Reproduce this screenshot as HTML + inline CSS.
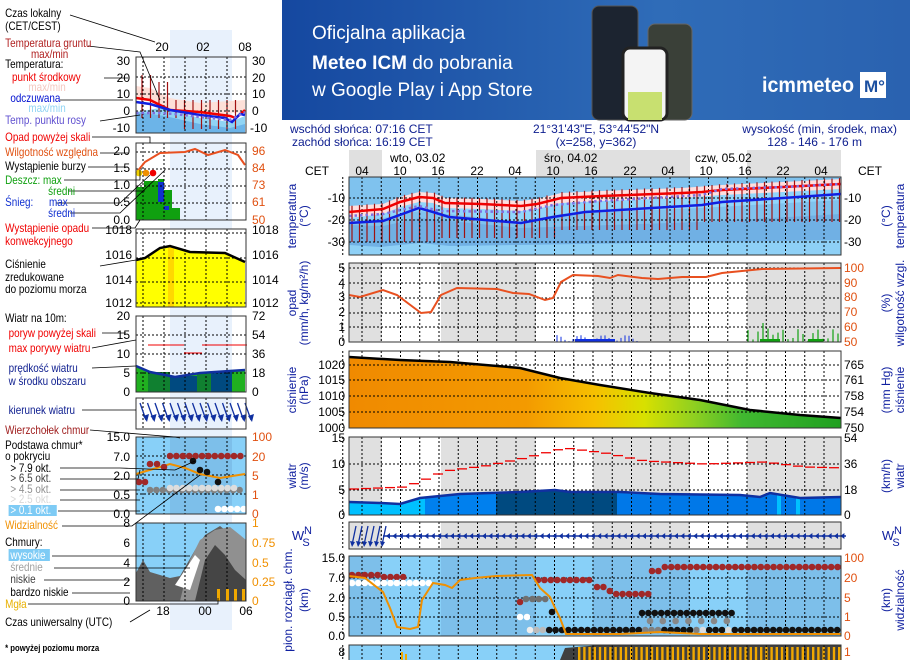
<!DOCTYPE html>
<html><head><meta charset="utf-8"><style>
html,body{margin:0;padding:0;background:#fff;}
svg{display:block;font-family:"Liberation Sans",sans-serif;}
</style></head><body>
<svg id="s" width="910" height="660" viewBox="0 0 910 660" xmlns="http://www.w3.org/2000/svg">
<defs>
<linearGradient id="bn" x1="0" y1="0" x2="1" y2="0"><stop offset="0" stop-color="#1548a0"/><stop offset="0.6" stop-color="#2f6cb8"/><stop offset="1" stop-color="#2a62b0"/></linearGradient>
<linearGradient id="pr" x1="0" y1="0" x2="1" y2="0">
<stop offset="0" stop-color="#f08a00"/><stop offset="0.36" stop-color="#f39a00"/><stop offset="0.5" stop-color="#f6c000"/><stop offset="0.6" stop-color="#d8e000"/><stop offset="0.7" stop-color="#90d020"/><stop offset="0.8" stop-color="#40b830"/><stop offset="1" stop-color="#20a020"/></linearGradient>
</defs>
<!-- banner -->
<rect x="282" y="0" width="628" height="120" fill="url(#bn)"/>
<text x="312" y="39" fill="#fff" font-size="19">Oficjalna aplikacja</text>
<text x="312" y="69" fill="#fff" font-size="19"><tspan font-weight="bold">Meteo ICM</tspan> do pobrania</text>
<text x="312" y="96" fill="#fff" font-size="19">w Google Play i App Store</text>
<rect x="592" y="6" width="46" height="114" rx="7" fill="#1c2430" stroke="#555"/>
<rect x="648" y="24" width="44" height="96" rx="7" fill="#3a4038" stroke="#666"/>
<rect x="623" y="48" width="44" height="72" rx="7" fill="#f4f4f4" stroke="#222" stroke-width="3"/>
<rect x="628" y="92" width="34" height="28" fill="#c8e070"/>
<text x="762" y="92" fill="#fff" font-size="21" font-weight="bold" textLength="92" lengthAdjust="spacingAndGlyphs">icmmeteo</text>
<rect x="860" y="72" width="26" height="26" fill="#fff"/>
<text x="864" y="92" fill="#1b4fa0" font-size="17" font-weight="bold">M°</text>
<!-- left column highlight -->
<rect x="170" y="30" width="62" height="600" fill="#e8f1fc"/>
<g id="g"></g>
<!-- header text -->
<g fill="#102090" font-size="12">
<text x="290" y="133">wschód słońca: 07:16 CET</text>
<text x="292" y="146">zachód słońca: 16:19 CET</text>
<text x="596" y="133" text-anchor="middle">21°31'43"E, 53°44'52"N</text>
<text x="596" y="146" text-anchor="middle">(x=258,  y=362)</text>
<text x="897" y="133" text-anchor="end">wysokość (min, środek, max)</text>
<text x="862" y="146" text-anchor="end">128 - 146 - 176 m</text>
</g>
<g font-size="12" fill="#000">
<text x="390" y="162">wto, 03.02</text><text x="544" y="162">śro, 04.02</text><text x="695" y="162">czw, 05.02</text>
<text x="305" y="175">CET</text><text x="858" y="175">CET</text>
<g text-anchor="middle"><text x="362" y="175">04</text><text x="400" y="175">10</text><text x="438" y="175">16</text><text x="477" y="175">22</text><text x="515" y="175">04</text><text x="553" y="175">10</text><text x="591" y="175">16</text><text x="630" y="175">22</text><text x="668" y="175">04</text><text x="706" y="175">10</text><text x="745" y="175">16</text><text x="783" y="175">22</text><text x="821" y="175">04</text></g>
</g>
<!-- main axes labels -->
<g font-size="12" fill="#000">
<g text-anchor="end"><text x="345" y="202">-10</text><text x="345" y="224">-20</text><text x="345" y="246">-30</text>
<text x="345" y="272">5</text><text x="345" y="287">4</text><text x="345" y="301">3</text><text x="345" y="316">2</text><text x="345" y="331">1</text><text x="345" y="346">0</text>
<text x="345" y="369">1020</text><text x="345" y="384">1015</text><text x="345" y="400">1010</text><text x="345" y="416">1005</text><text x="345" y="432">1000</text>
<text x="345" y="442">15</text><text x="345" y="468">10</text><text x="345" y="494">5</text><text x="345" y="519">0</text>
<text x="345" y="562">15.0</text><text x="345" y="582">7.0</text><text x="345" y="602">2.0</text><text x="345" y="621">0.5</text><text x="345" y="640">0.0</text><text x="345" y="656">8</text></g>
<text x="844" y="202">-10</text><text x="844" y="224">-20</text><text x="844" y="246">-30</text>
<text x="844" y="369">765</text><text x="844" y="384">761</text><text x="844" y="400">758</text><text x="844" y="416">754</text><text x="844" y="432">750</text>
<text x="844" y="442">54</text><text x="844" y="468">36</text><text x="844" y="494">18</text><text x="844" y="519">0</text>
<g fill="#e05010"><text x="844" y="272">100</text><text x="844" y="287">90</text><text x="844" y="301">80</text><text x="844" y="316">70</text><text x="844" y="331">60</text><text x="844" y="346">50</text>
<text x="844" y="562">100</text><text x="844" y="582">20</text><text x="844" y="602">5</text><text x="844" y="621">1</text><text x="844" y="640">0</text><text x="844" y="656">1</text></g>
</g>
<g font-size="12" fill="#1020a0" text-anchor="middle">
<text transform="translate(296,216) rotate(-90)">temperatura</text><text transform="translate(308,216) rotate(-90)">(°C)</text>
<text transform="translate(296,303) rotate(-90)">opad</text><text transform="translate(308,303) rotate(-90)">(mm/h, kg/m²/h)</text>
<text transform="translate(296,390) rotate(-90)">ciśnienie</text><text transform="translate(308,390) rotate(-90)">(hPa)</text>
<text transform="translate(296,476) rotate(-90)">wiatr</text><text transform="translate(308,476) rotate(-90)">(m/s)</text>
<text transform="translate(292,600) rotate(-90)">pion. rozciągł. chm.</text><text transform="translate(308,600) rotate(-90)">(km)</text>
<text transform="translate(890,216) rotate(-90)">(°C)</text><text transform="translate(904,216) rotate(-90)">temperatura</text>
<text transform="translate(890,303) rotate(-90)">(%)</text><text transform="translate(904,303) rotate(-90)">wilgotność wzgl.</text>
<text transform="translate(890,390) rotate(-90)">(mm Hg)</text><text transform="translate(904,390) rotate(-90)">ciśnienie</text>
<text transform="translate(890,476) rotate(-90)">(km/h)</text><text transform="translate(904,476) rotate(-90)">wiatr</text>
<text transform="translate(890,600) rotate(-90)">(km)</text><text transform="translate(904,600) rotate(-90)">widzialność</text>
<text x="298" y="540" font-size="13">W</text><text x="308" y="534" font-size="11">N</text><text x="306" y="546" font-size="11">S</text>
<text x="888" y="540" font-size="13">W</text><text x="898" y="534" font-size="11">N</text><text x="896" y="546" font-size="11">S</text>
</g>
<!-- left labels -->
<g font-size="11.5" transform="scale(0.86,1)">
<text x="6" y="17">Czas lokalny</text><text x="6" y="30">(CET/CEST)</text>
<text x="6" y="47" fill="#b02020">Temperatura gruntu</text><text x="36" y="58" fill="#b02020">max/min</text>
<text x="6" y="68">Temperatura:</text>
<text x="14" y="81" fill="#f00000">punkt środkowy</text>
<text x="33" y="91" fill="#f4c8c0">max/min</text>
<text x="12" y="102" fill="#0010d0">odczuwana</text>
<text x="33" y="112" fill="#90d4f4">max/min</text>
<text x="6" y="124" fill="#6050d0">Temp. punktu rosy</text>
<text x="6" y="141" fill="#f00000">Opad powyżej skali</text>
<text x="6" y="156" fill="#e05010">Wilgotność względna</text>
<text x="6" y="170">Wystąpienie burzy</text>
<text x="6" y="184" fill="#10a010">Deszcz: max</text>
<text x="56" y="195" fill="#10a010">średni</text>
<text x="6" y="206" fill="#1030d0">Śnieg:</text><text x="57" y="206" fill="#1030d0">max</text>
<text x="56" y="217" fill="#1030d0">średni</text>
<text x="6" y="232" fill="#f00000">Wystąpienie opadu</text>
<text x="6" y="245" fill="#f00000">konwekcyjnego</text>
<text x="6" y="268">Ciśnienie</text><text x="6" y="281">zredukowane</text><text x="6" y="293">do poziomu morza</text>
<text x="6" y="322">Wiatr na 10m:</text>
<text x="10" y="337" fill="#f00000">poryw powyżej skali</text>
<text x="10" y="352" fill="#f00000">max porywy wiatru</text>
<text x="10" y="372" fill="#102090">prędkość wiatru</text>
<text x="10" y="385" fill="#102090">w środku obszaru</text>
<text x="10" y="414" fill="#102090">kierunek wiatru</text>
<text x="6" y="434" fill="#a02020">Wierzchołek chmur</text>
<text x="6" y="449">Podstawa chmur*</text><text x="6" y="460">o pokryciu</text>
<text x="12" y="472">&gt; 7.9 okt.</text>
<text x="12" y="482" fill="#404040">&gt; 6.5 okt.</text>
<text x="12" y="493" fill="#909090">&gt; 4.5 okt.</text>
<text x="12" y="503" fill="#d8d8d8">&gt; 2.5 okt.</text>
<rect x="10" y="505" width="56" height="11" fill="#7ecbf5"/><text x="12" y="514" fill="#fff">&gt; 0.1 okt.</text>
<text x="6" y="529" fill="#f09000">Widzialność</text>
<text x="6" y="546">Chmury:</text>
<rect x="10" y="549" width="48" height="12" fill="#7ecbf5"/><text x="12" y="559" fill="#fff">wysokie</text>
<text x="12" y="571" fill="#a0a0a0">średnie</text>
<text x="12" y="583" fill="#404040">niskie</text>
<text x="12" y="596">bardzo niskie</text>
<text x="6" y="608" fill="#e8b000">Mgła</text>
<text x="6" y="626">Czas uniwersalny (UTC)</text>
<text x="6" y="651" font-size="9" font-weight="bold">* powyżej poziomu morza</text>
</g>
<g font-size="12" text-anchor="middle"><text x="162" y="51">20</text><text x="203" y="51">02</text><text x="245" y="51">08</text>
<text x="163" y="615">18</text><text x="205" y="615">00</text><text x="246" y="615">06</text></g>
<g font-size="12" text-anchor="end"><text x="130" y="65">30</text><text x="130" y="82">20</text><text x="130" y="98">10</text><text x="130" y="115">0</text><text x="130" y="132">-10</text>
<text x="130" y="155">2.0</text><text x="130" y="172">1.5</text><text x="130" y="189">1.0</text><text x="130" y="206">0.5</text><text x="130" y="224">0.0</text>
<text x="132" y="234">1018</text><text x="132" y="259">1016</text><text x="132" y="284">1014</text><text x="132" y="307">1012</text>
<text x="130" y="320">20</text><text x="130" y="339">15</text><text x="130" y="358">10</text><text x="130" y="377">5</text><text x="130" y="396">0</text>
<text x="130" y="441">15.0</text><text x="130" y="461">7.0</text><text x="130" y="480">2.0</text><text x="130" y="499">0.5</text><text x="130" y="518">0.0</text>
<text x="130" y="527">8</text><text x="130" y="547">6</text><text x="130" y="567">4</text><text x="130" y="586">2</text><text x="130" y="605">0</text></g>
<g font-size="12"><text x="252" y="65">30</text><text x="252" y="82">20</text><text x="252" y="98">10</text><text x="252" y="115">0</text><text x="250" y="132">-10</text>
<text x="252" y="234">1018</text><text x="252" y="259">1016</text><text x="252" y="284">1014</text><text x="252" y="307">1012</text>
<text x="252" y="320">72</text><text x="252" y="339">54</text><text x="252" y="358">36</text><text x="252" y="377">18</text><text x="252" y="396">0</text>
<g fill="#e05010"><text x="252" y="155">96</text><text x="252" y="172">84</text><text x="252" y="189">73</text><text x="252" y="206">61</text><text x="252" y="224">50</text>
<text x="252" y="441">100</text><text x="252" y="461">20</text><text x="252" y="480">5</text><text x="252" y="499">1</text><text x="252" y="518">0</text></g>
<g fill="#f09000"><text x="252" y="527">1</text><text x="252" y="547">0.75</text><text x="252" y="567">0.5</text><text x="252" y="586">0.25</text><text x="252" y="605">0</text></g></g>
</svg>
<script>
var S='http://www.w3.org/2000/svg',G=document.getElementById('g');
function e(t,a){var n=document.createElementNS(S,t);for(var k in a)n.setAttribute(k,a[k]);G.appendChild(n);return n;}
function R(x,y,w,h,f,o){var a={x:x,y:y,width:w,height:h,fill:f};if(o)for(var k in o)a[k]=o[k];return e('rect',a);}
function P(d,f,s,w,o){var a={d:d,fill:f||'none',stroke:s||'none','stroke-width':w||1};if(o)for(var k in o)a[k]=o[k];return e('path',a);}
function pl(p){return 'M'+p.map(function(q){return q.join(',')}).join('L');}
var L=349,Rr=841,W=Rr-L;
var nights=[[349,382],[441,536],[593,690],[747,841]];
R(349,150,33,28,'#e0e0e0');R(536,150,154,28,'#e0e0e0');R(747,150,94,28,'#e0e0e0');
function nightBg(y,h){R(L,y,W,h,'#fff');nights.forEach(function(n){R(n[0],y,n[1]-n[0],h,'#e0e0e0');});}
function vgrid(y1,y2,x0,x1,st,c){for(var x=x0;x<=x1;x+=st)e('line',{x1:x,y1:y1,x2:x,y2:y2,stroke:c||'#000','stroke-dasharray':'2,2','stroke-width':1});}
function hgrid(ys,x1,x2){ys.forEach(function(y){e('line',{x1:x1,y1:y,x2:x2,y2:y,stroke:'#000','stroke-dasharray':'2,2'});});}
var gx0=362-19.25;
// temp panel
R(L,177,W,78,'#7fc2ee');
P('M349,214L383,212L420,196L445,200L520,201L560,196L700,189L841,181L841,200L700,208L560,214L520,222L420,211L383,218L349,222Z','#90d6fc');
P('M349,225L383,226L420,218L520,228L700,222L841,214L841,255L349,255Z','#70b0e4');
P('M349,245L380,247L420,243L450,246L841,240L841,255L349,255Z','#8ed0f6');
P('M349,206L383,204L400,197L419,192L433,193L445,198L481,199L521,201L537,199L561,193L602,191L682,188L722,185L783,182L841,179L841,189L783,192L722,195L682,198L602,201L561,203L537,209L521,211L481,209L445,208L433,203L419,202L400,207L383,214L349,218Z','#ffdede');
var red=[[349,212],[383,209],[400,202],[419,197],[433,198],[445,203],[481,204],[521,206],[537,204],[561,198],[602,196],[682,193],[702,192],[722,190],[783,187],[841,184]];
function yAt(arr,x){for(var i=1;i<arr.length;i++)if(x<=arr[i][0]){var a=arr[i-1],b=arr[i];return a[1]+(b[1]-a[1])*(x-a[0])/(b[0]-a[0]);}return arr[arr.length-1][1];}
for(var x=352;x<841;x+=7.5){var t=yAt(red,x)-6;var b=x<440?242:x<560?238:x<700?230:222;e('line',{x1:x,y1:t,x2:x,y2:b,stroke:'#a01010','stroke-width':1.2});}
vgrid(177,255,gx0,841,19.25);hgrid([198,220,242],L,Rr);
P(pl(red),0,'#f00000',2.5);
var blu=[[349,223],[383,221],[419,208],[433,212],[449,217],[521,223],[553,217],[585,212],[702,205],[722,202],[783,198],[841,194]];
P(pl(blu),0,'#1020e0',2.5);
P(pl([[349,216],[383,214],[419,206],[440,211],[521,212],[553,205],[600,201],[702,195],[722,189],[783,187],[841,184]]),0,'#8070e0',2.5,{'stroke-dasharray':'2.5,3'});
R(L,177,W,78,'none',{stroke:'#333'});
// precip
nightBg(263,79);vgrid(263,342,gx0,841,19.25);hgrid([268,283,298,313,327],L,Rr);
for(var x=557;x<640;x+=4){var h=(Math.sin(x*1.3)+1.3)*3;e('line',{x1:x,y1:342-h,x2:x,y2:342,stroke:'#1030e0'});}
R(575,339,40,3,'#1030e0');
for(var x=748;x<840;x+=5){var h=(Math.sin(x*0.9)+1.2)*6+(x>755&&x<775?6:0);e('line',{x1:x,y1:342-h,x2:x,y2:342,stroke:'#10a010','stroke-width':1.2});}
R(760,339,20,3,'#10a010');R(808,339,15,3,'#10a010');
P(pl([[349,295],[360,297],[383,290],[397,295],[421,313],[431,312],[441,295],[457,288],[497,289],[513,293],[529,294],[545,300],[553,298],[561,282],[573,275],[598,276],[610,278],[618,275],[642,278],[658,279],[682,277],[706,277],[722,273],[762,269],[841,268]]),0,'#e85020',2);
R(L,263,W,79,'none',{stroke:'#333'});
// pressure
R(L,351,W,77,'#fff');vgrid(351,428,gx0,841,19.25);
P('M349,357L400,360L450,362L520,368L560,378L600,385L650,393L700,400L750,410L800,415L841,418L841,428L349,428Z','url(#pr)');
hgrid([365,380,396,412],L,Rr);
P('M349,357L400,360L450,362L520,368L560,378L600,385L650,393L700,400L750,410L800,415L841,418','none','#000',2.5);
R(L,351,W,77,'none',{stroke:'#333'});
// wind
nightBg(437,78);
var wl=[[349,502],[380,503],[400,504],[420,498],[460,494],[520,492],[555,490],[570,492],[620,492],[660,494],[740,495],[760,497],[770,493],[800,498],[841,497]];
var wd='M'+wl.map(function(q){return q.join(',')}).join('L')+'L841,515L349,515Z';
e('clipPath',{id:'wc'}).appendChild(function(){var p=document.createElementNS(S,'path');p.setAttribute('d',wd);return p;}());
var gw=e('g',{'clip-path':'url(#wc)'});
[[349,425,'#00c0ff'],[425,496,'#0080ee'],[496,617,'#004a80'],[617,841,'#0078e8'],[777,781,'#00c0ff'],[796,800,'#00c0ff']].forEach(function(c){var r=document.createElementNS(S,'rect');r.setAttribute('x',c[0]);r.setAttribute('y',437);r.setAttribute('width',c[1]-c[0]);r.setAttribute('height',78);r.setAttribute('fill',c[2]);gw.appendChild(r);});
vgrid(437,515,gx0,841,19.25);hgrid([464,490],L,Rr);
P(pl(wl),0,'#1030a0',2.5);
var gs=[[349,489],[400,487],[419,480],[440,471],[480,466],[520,458],[560,448],[600,453],[640,461],[700,464],[760,462],[800,467],[841,468]];
for(var x=349;x<841;x+=12){e('line',{x1:x,y1:yAt(gs,x),x2:x+10,y2:yAt(gs,x),stroke:'#f00000','stroke-width':1.3});}
R(L,437,W,78,'none',{stroke:'#333'});
// direction
nightBg(522,27);vgrid(522,549,gx0,841,19.25);
e('line',{x1:383,y1:536,x2:846,y2:536,stroke:'#1030a0','stroke-width':1.5});
for(var x=386;x<841;x+=6.4)P('M'+x+',536L'+(x+4)+',533L'+(x+4)+',539Z','#1030a0');
for(var x=352;x<384;x+=6){e('line',{x1:x+4,y1:526,x2:x,y2:545,stroke:'#1030a0','stroke-width':1.3});P('M'+(x-2)+',541L'+(x+3)+',542L'+x+',547Z','#1030a0');}
R(L,522,W,27,'none',{stroke:'#333'});
// cloud base
R(L,556,W,80,'#88d0f8');nights.forEach(function(n){R(n[0],556,n[1]-n[0],80,'#7dbfea');});
vgrid(556,636,gx0,841,19.25);hgrid([578,598,617],L,Rr);
function dot(x,y,c){e('circle',{cx:x,cy:y,r:3.3,fill:c});}
for(var x=352;x<408;x+=6.4)dot(x,575+(x>380?2:0),'#a02828');
for(var x=352;x<430;x+=6.4)dot(x,583,'#fff');
dot(520,602,'#a02828');for(var x=526;x<548;x+=6.4)dot(x,599,'#707070');
dot(520,617,'#fff');dot(527,617,'#fff');dot(552,612,'#111');
for(var x=538;x<594;x+=6.4)dot(x,580,'#a02828');
for(var x=597;x<650;x+=6.4)dot(x,x<605?587:x<615?591:594,'#a02828');
for(var x=530;x<842;x+=6.4){var c='#111';if(x<545)c=(x<535?'#eee':'#bbb');else if(x>640&&x<700&&((x|0)%3==0))c='#808080';else if(x>700&&x<730&&((x|0)%2==0))c='#ddd';dot(x,630,c);}
for(var x=642;x<735;x+=6.4)dot(x,613,'#111');
for(var x=650;x<730;x+=12.8)dot(x,621,'#888');
for(var x=652;x<842;x+=6.4)dot(x,x<660?571:567,'#a02828');
P(pl([[349,576],[365,578],[383,592],[390,608],[397,627],[410,629],[418,627],[422,600],[433,583],[445,585],[452,588],[460,580],[475,578],[496,576],[532,575],[540,588],[550,597],[555,608],[560,618],[566,634],[620,634],[660,632],[700,634],[841,634]]),0,'#f09000',2);
R(L,556,W,80,'none',{stroke:'#333'});
// clouds bottom
R(L,645,W,15,'#88d0f8');
P('M560,660L565,648L600,645L841,645L841,660Z','#404040');
for(var x=578;x<841;x+=5.2)R(x,647,2.4,13,'#f0a800');
R(401,652,2,8,'#f0a800');R(405,654,2,6,'#f0a800');
vgrid(645,660,gx0,841,19.25);
R(L,645,W,16,'none',{stroke:'#333'});
// LEFT MINI PANELS
var lx=136,lw=110,lgs=[143,164,185,206,227];
function lv(y1,y2){lgs.forEach(function(x){e('line',{x1:x,y1:y1,x2:x,y2:y2,stroke:'#000','stroke-dasharray':'2,2'});});}
R(lx,57,lw,76,'#fff');R(170,57,62,76,'#e8f1fc');
P('M136,86L150,88L170,98L200,103L245,100L245,112L200,116L170,112L150,100L136,98Z','#fde0d8');
P('M136,112L160,108L175,112L200,118L230,122L245,116L245,133L136,133Z','#90d4f4');
P('M136,112L165,116L200,124L230,128L245,124L245,133L136,133Z','#6cb4e8');
for(var x=142;x<244;x+=8.5){var t=x<155?75:x<170?82:100;e('line',{x1:x,y1:t,x2:x,y2:x<180?118:129,stroke:'#a01010','stroke-width':1.2});}
lv(57,133);hgrid([77,94,111],lx,246);
P('M136,98L150,100L170,110L200,112L230,116L236,118L245,110','none','#f00000',2.5);
P('M136,102L150,104L170,110L200,115L225,118L232,122L240,114L245,115','none','#1020e0',2.5);
P('M136,113L160,113L175,114L200,117L230,120L245,112','none','#8070e0',2.5,{'stroke-dasharray':'2.5,3'});
R(lx,57,lw,76,'none',{stroke:'#333'});
R(lx,143,lw,77,'#fff');R(170,143,62,77,'#e8f1fc');
R(136,187,8,33,'#10a010');R(144,181,14,39,'#10a010');R(158,179,6,41,'#10a010');R(164,190,8,30,'#10a010');R(172,208,8,12,'#10a010');R(158,182,6,20,'#1030d0');R(164,206,5,4,'#1030d0');
lv(143,220);hgrid([152,169,186,203],lx,246);
P('M136,173L145,162L160,153L185,152L195,149L208,155L225,150L238,155L245,165','none','#e85020',2);
['#f0d000','#f09000','#f00000'].forEach(function(c,i){dot(139+i*7,173,c);});
R(lx,143,lw,77,'none',{stroke:'#333'});
R(lx,229,lw,78,'#fff');
P('M136,260L145,258L160,248L170,246L190,252L225,253L245,262L245,307L136,307Z','#ffff00');R(168,246,6,61,'#ffd800');
lv(229,307);hgrid([233,258,282,303],lx,246);
P('M136,260L145,258L160,248L170,246L190,252L225,253L245,262','none','#000',2.5);
R(lx,229,lw,78,'none',{stroke:'#333'});
R(lx,316,lw,76,'#fff');R(170,316,62,76,'#e8f1fc');
P('M136,366L150,372L175,377L200,373L245,370L245,392L136,392Z','#20b020');
R(148,372,22,20,'#108030');R(170,376,27,16,'#004a80');R(211,372,21,20,'#004a80');R(197,373,14,19,'#108030');
lv(316,392);hgrid([335,354,373],lx,246);
P('M136,366L150,372L175,377L200,373L245,370','none','#1030a0',2.5);
for(var x=148;x<245;x+=9)e('line',{x1:x,y1:345+(x>175&&x<195?8:0),x2:x+9,y2:345+(x>175&&x<195?8:0),stroke:'#f00000'});
R(lx,316,lw,76,'none',{stroke:'#333'});
R(lx,398,lw,31,'#fff');R(170,398,62,31,'#e8f1fc');lv(398,429);
for(var x=140;x<246;x+=7.5){e('line',{x1:x,y1:403,x2:x+6,y2:420,stroke:'#1030a0','stroke-width':1.3});P('M'+(x+3)+',416L'+(x+9)+',414L'+(x+7)+',422Z','#1030a0');}
R(lx,398,lw,31,'none',{stroke:'#333'});
R(lx,437,lw,77,'#88d0f8');R(170,437,62,77,'#7dbfea');lv(437,514);hgrid([456,475,494],lx,246);
P('M136,474L160,467L170,464L185,468L200,474L220,478L245,474','none','#f09000',2);
for(var x=170;x<246;x+=6.4)dot(x,456,'#a02828');dot(150,464,'#a02828');dot(157,464,'#a02828');dot(164,467,'#a02828');dot(139,482,'#a02828');dot(145,482,'#a02828');
for(var x=150;x<246;x+=6.4)dot(x,490,'#808080');for(var x=170;x<240;x+=6.4)dot(x,488,'#ddd');
for(var x=218;x<246;x+=6.4)dot(x,509,'#fff');dot(193,461,'#111');dot(200,470,'#111');dot(207,472,'#111');dot(218,482,'#111');
R(lx,437,lw,77,'none',{stroke:'#333'});
R(lx,523,lw,78,'#88d0f8');
P('M136,601L136,573L143,560L150,572L170,578L180,576L195,550L205,535L220,526L238,540L246,560L246,601Z','#606060');
P('M180,601L190,560L200,540L215,530L230,527L240,535L246,540L246,601Z','#909090');
P('M195,601L205,560L215,545L225,555L235,570L246,580L246,601Z','#454545');
P('M175,585L185,570L195,555L200,560L190,590Z','#fff');
lv(523,601);
[217,226,234,242].forEach(function(x){R(x,589,3,12,'#f0a800');});
R(lx,523,lw,78,'none',{stroke:'#333'});
[[[70,15],[155,42]],[[88,46],[140,52],[160,100]],[[104,78],[128,78]],[[60,100],[133,100]],[[100,121],[140,115]],[[92,137],[150,137],[150,143]],[[100,153],[128,153]],[[88,167],[128,167]],[[64,180],[140,180],[140,170]],[[68,191],[145,191]],[[56,203],[120,203],[150,175]],[[70,213],[120,213],[165,170]],[[92,228],[135,228],[140,220]],[[100,266],[136,260]],[[102,333],[126,333]],[[92,348],[136,340]],[[92,368],[136,366]],[[82,410],[136,410]],[[90,430],[175,437],[180,438]],[[60,468],[120,468],[175,470],[195,461]],[[60,479],[138,479],[140,470]],[[60,490],[140,490]],[[60,500],[140,500]],[[58,511],[140,511]],[[62,526],[132,526],[200,475]],[[52,556],[190,556]],[[54,568],[190,568]],[[44,580],[130,580]],[[72,593],[130,593]],[[28,604],[218,604],[218,598]],[[130,622],[150,610]]].forEach(function(l){P(pl(l),0,'#000',0.8);});
</script>
</body></html>
